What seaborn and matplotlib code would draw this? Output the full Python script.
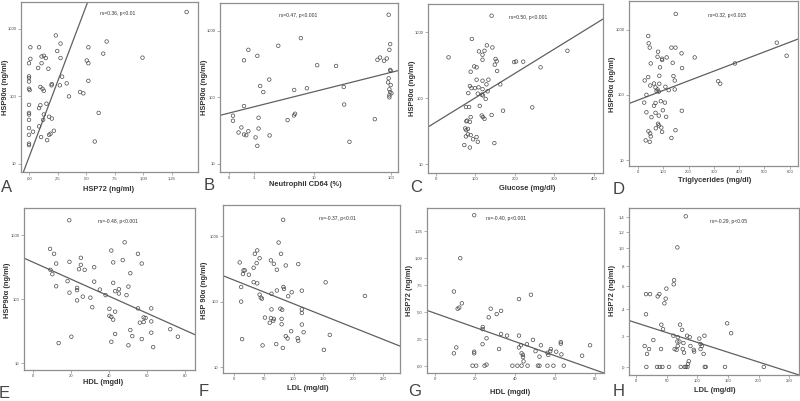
import numpy as np
import pandas as pd
import matplotlib
matplotlib.use("Agg")
import matplotlib.pyplot as plt
import matplotlib.font_manager as fm
import seaborn as sns

# ---------------- data ----------------
a_x = [1.38, 0.235, 0.276, 0.012, 0.088, 0.52, 0.68, 0.65, 0.247, 0.012, 0, 0.11, 0.13, 0.147, 0.276,
       0.506, 0.52, 0.994, 0.11, 0.08, 0.17, 0, 0, 0.29, 0.52, 0.197, 0.27, 0.33, 0, 0, 0.006, 0.1,
       0.118, 0.13, 0.2, 0.35, 0.447, 0.476, 0, 0.1, 0.153, 0.088, 0, 0, 0.13, 0.176, 0.2, 0.124, 0,
       0.61, 0.088, 0, 0.035, 0.218, 0, 0.176, 0.188, 0.106, 0.159, 0, 0, 0.576]
a_y = [1780, 800, 606, 534, 534, 534, 650, 430, 470, 360, 310, 390, 400, 370, 370,
       340, 310, 375, 310, 264, 257, 198, 187, 196, 170, 146, 146, 156, 166, 130, 124, 138,
       130, 121, 152, 100, 116, 111, 75, 74, 78, 67, 57, 54, 54, 50, 47, 45, 45,
       57, 36, 34, 30, 31, 27, 27, 28, 25, 22.5, 20, 19, 21.5]

b_x = [92.5, 6.67, 3.03, 0.72, 1.22, 0.52, 11.2, 19.9, 2.12, 1.41, 1.63, 5.34, 8.1, 25.0, 0.52, 25.3,
       0.11, 0.11, 1.30, 4.25, 5.3, 5.5, 62, 0.41, 1.30, 0.30, 0.72, 0.52, 0.62, 2.15, 1.11, 29.6, 1.22,
       66.9, 72, 81, 87.5, 94.4, 96.5, 96.5, 98, 92.5, 90.8, 98, 94.4, 96.5, 100, 94.4, 94.4]
b_y = [1740, 775, 595, 517, 420, 360, 304, 296, 185, 148, 120, 129, 137, 143, 74, 78,
       53, 44.5, 49.4, 45.6, 53.5, 56.7, 47, 35.3, 34, 29.7, 31, 27.7, 27, 26.8, 25, 21.5, 18.7,
       366, 396, 354, 383, 517, 630, 258, 250, 193, 168, 153, 132, 120, 115, 107, 100]

c_x = [141, 91, 129, 143, 109, 123, 333, 32, 118, 118, 151, 154, 198, 203, 221, 149, 97, 103, 265,
       88, 155, 103, 118, 133, 128, 163, 86, 90, 99, 108, 118, 131, 82, 106, 116, 119, 126, 76, 84,
       111, 170, 244, 88, 116, 119, 141, 123, 77, 79, 86, 74, 77, 81, 81, 88, 76, 103, 94, 106, 148,
       72, 86]
c_y = [1790, 795, 635, 590, 515, 526, 526, 418, 458, 385, 395, 365, 355, 362, 360, 324, 305, 295, 295,
       253, 260, 192, 185, 192, 163, 163, 154, 143, 143, 147, 138, 128, 120, 118, 114, 111, 98, 74, 74,
       77, 65, 73, 52, 55, 52, 56, 49, 45, 46, 44, 35, 33, 34.5, 28.5, 27.8, 26.5, 26, 24, 22, 21,
       19.6, 18]

d_x = [149, 40, 42, 46, 132, 148, 549, 588, 79, 172, 77, 95, 113, 224, 95, 50, 137, 383, 87, 174,
       140, 84, 145, 26, 40, 63, 84, 48, 69, 108, 77, 82, 73, 121, 145, 317, 325, 33, 24, 90, 69,
       106, 63, 98, 173, 33, 69, 82, 53, 111, 79, 82, 70, 92, 95, 148, 41, 48, 50, 132, 30, 46]
d_y = [1740, 800, 617, 530, 530, 530, 631, 398, 458, 433, 384, 358, 375, 375, 342, 303, 310, 303, 264, 257,
       194, 196, 166, 166, 187, 149, 148, 139, 130, 133, 121, 112, 115, 118, 121, 162, 148, 100, 76, 80, 75,
       76, 68, 58, 57, 54, 53, 48, 45.5, 46, 36, 34, 30.7, 31.5, 27, 28.7, 27.6, 25.6, 23, 21.8, 20, 19]

e_x = [18.9, 48, 8.8, 41, 10.9, 55, 25, 47, 12, 19, 42, 57, 25, 32, 24, 27, 9, 10, 51, 18, 32, 42,
       12, 50, 23, 23, 35, 45, 43, 45, 19, 38, 49, 26, 30, 23, 31, 40, 55, 62, 43, 40, 41, 42, 58,
       59, 58, 56, 62, 51, 72, 62, 43, 52, 76, 20, 57, 13.3, 41, 50, 63]
e_y = [1730, 780, 616, 580, 515, 515, 446, 410, 363, 386, 378, 363, 346, 318, 296, 289, 289, 247, 256,
       192, 189, 181, 160, 158, 151, 139, 142, 144, 134, 123, 127, 116, 116, 110, 106, 96, 75, 71, 72,
       72, 64, 55, 53, 48, 52, 51, 44, 43, 45, 33, 34, 30, 28.6, 26.5, 25.9, 25.9, 23.8, 20.6, 21.6,
       19, 17.8]

f_x = [82.6, 75, 79, 39, 35, 43, 9.6, 38, 62, 67, 108, 87, 33, 18, 16, 72, 15, 25, 33, 39, 154, 12,
       83, 72, 84, 97, 114, 43, 91, 63, 220, 45, 47, 12, 63, 78, 81, 114, 114, 52, 62, 67, 60, 66, 80,
       80, 114, 96, 117, 161, 87, 90, 107, 108, 13.5, 71, 48, 82, 151]
f_y = [1780, 800, 538, 606, 538, 460, 397, 388, 427, 378, 374, 357, 329, 300, 300, 307, 264, 258, 198,
       190, 197, 167, 167, 148, 156, 139, 147, 128, 121, 132, 122, 115, 111, 100, 76, 78, 75, 76, 67,
       57, 56, 54.5, 47.5, 51, 54.5, 45, 44.6, 35.3, 34, 31, 29.6, 27.3, 27.6, 25.2, 26.7, 22.4, 21.4,
       19.6, 18.3]

g_x = [19.5, 12.5, 9.3, 48, 13.3, 42, 12, 11.2, 27.8, 33, 30.8, 26.8, 23.8, 23.7, 33, 36, 42, 25.7,
       49, 23.7, 10.5, 32, 9.3, 19.5, 19.5, 42, 43, 46, 53, 63, 63, 77.7, 58, 57.7, 50.3, 56.3, 60.7,
       63.3, 73.7, 52.3, 43.3, 44, 44, 44.3, 56.7, 18.7, 20.5, 24.7, 25.7, 38.7, 41.2, 43.3, 46.3,
       51.5, 52.3, 56.3, 59.3, 64.5]
g_y = [1.40, 1.00, 0.69, 0.66, 0.58, 0.62, 0.54, 0.53, 0.53, 0.51, 0.48, 0.45, 0.36, 0.34, 0.295, 0.28,
       0.28, 0.255, 0.24, 0.20, 0.17, 0.155, 0.115, 0.13, 0.115, 0.17, 0.19, 0.20, 0.19, 0.22, 0.205,
       0.19, 0.155, 0.135, 0.135, 0.12, 0.13, 0.105, 0.093, 0.084, 0.115, 0.10, 0.08, 0.04, 0.10, 0, 0,
       0, 0.01, 0, 0, 0, 0, 0, 0, 0, 0, 0]

h_x = [80.8, 67.1, 61.7, 61.1, 49.1, 15.8, 22.4, 37.7, 34.9, 48, 45.9, 15.8, 40.9, 71.5, 148.5, 43.7,
       74.8, 155, 60.6, 67.7, 83, 87.3, 103, 111.4, 27.8, 67.1, 70.5, 77, 105, 13.6, 67.7, 88.4, 107,
       65.8, 62.6, 20.7, 40.4, 75.9, 93.9, 94.5, 105, 17.5, 78, 110, 85.7, 84.6,
       16.4, 33.8, 38.2, 42.6, 53.5, 72.6, 79.1, 80.8, 83.5, 111.9, 113.5, 145, 208.5]
h_y = [1.41, 1.01, 0.66, 0.62, 0.58, 0.53, 0.53, 0.53, 0.51, 0.49, 0.45, 0.36, 0.28, 0.28, 0.29, 0.247,
       0.242, 0.218, 0.20, 0.19, 0.20, 0.19, 0.18, 0.20, 0.17, 0.16, 0.16, 0.15, 0.143, 0.13, 0.13, 0.13,
       0.13, 0.105, 0.11, 0.11, 0.11, 0.11, 0.105, 0.094, 0.11, 0.079, 0.087, 0.079, 0.034, 0.018,
       0, 0, 0, 0, 0, 0, 0, 0, 0, 0, 0, 0, 0]

# regression lines (in transformed axis units): intercept, slope
fit_intercepts = [1.10, 1.765, 1.64, 1.92, 2.579, 2.329, 0.487, 0.1118]
fit_slopes = [4.47, 0.305, 0.003693, 0.001478, -0.01334, -0.003617, -0.00656, -0.000497]

rs_texts = ["rs=0.36, p<0.01", "rs=0.47, p<0.001", "rs=0.50, p<0.001", "rs=0.32, p<0.015",
            "rs=-0.48, p<0.001", "rs=-0.37, p<0.01", "rs=-0.40, p<0.001", "rs=-0.29, p<0.05"]
x_labels = ["HSP72 (ng/ml)", "Neutrophil CD64 (%)", "Glucose (mg/dl)", "Triglycerides (mg/dl)",
            "HDL (mgdl)", "LDL (mg/dl)", "HDL (mgdl)", "LDL (mg/dl)"]
y_labels = ["HSP90α (ng/ml)", "HSP90α (ng/ml)", "HSP90α (ng/ml)", "HSP90α (ng/ml)",
            "HSP90α (ng/ml)", "HSP 90α (ng/ml)", "HSP72 (ng/ml)", "HSP72 (ng/ml)"]
panel_letters = ["A", "B", "C", "D", "E", "F", "G", "H"]

a_xticks = [0, 0.25, 0.5, 0.75, 1.0, 1.25]
a_xticklabels = [",00", ",25", ",50", ",75", "1,00", "1,25"]
b_xticks = [0, 1, 10, 100]
b_xticklabels = ["0", "1", "10", "100"]
c_xticks = [0, 100, 200, 300, 400]
d_xticks = [0, 100, 200, 300, 400, 500, 600]
e_xticks = [0, 20, 40, 60, 80]
f_xticks = [0, 50, 100, 150, 200, 250]
hsp90_yticks = [10, 100, 1000]
g_yticks = [0, 0.25, 0.5, 0.75, 1.0, 1.25]
g_yticklabels = [",00", ",25", ",50", ",75", "1,00", "1,25"]
h_yticks = [0, 0.2, 0.4, 0.6, 0.8, 1.0, 1.2, 1.4]
h_yticklabels = [",0", ",2", ",4", ",6", ",8", "1,0", "1,2", "1,4"]

# ---------------- style ----------------
sns.set_style("white")
names = {f.name for f in fm.fontManager.ttflist}
narrow = "Liberation Sans Narrow" if "Liberation Sans Narrow" in names else "Liberation Sans"
plt.rcParams["font.family"] = ["Liberation Sans", "DejaVu Sans"]

W, H = 800, 401
fig = plt.figure(figsize=(8, 4.01), dpi=100)
fig.patch.set_facecolor("white")

def fwd1p(v):
    v = np.asarray(v, dtype=float)
    return np.log10(np.clip(v + 1, 1e-9, None))

def inv1p(v):
    return 10 ** np.asarray(v, dtype=float) - 1

ident = (lambda v: np.asarray(v, dtype=float), lambda v: np.asarray(v, dtype=float))
logt = (lambda v: np.log10(np.asarray(v, dtype=float)), lambda v: 10 ** np.asarray(v, dtype=float))
l1p = (fwd1p, inv1p)

panels = [
    dict(box=(21, 2, 198, 172), x=a_x, y=a_y, xs="lin", ys="log", xlim=(-0.07, 1.48), ylim=(7.6, 2500),
         xt=a_xticks, xtl=a_xticklabels, yt=hsp90_yticks, ytl=["10", "100", "1000"],
         txt=(118, 14), let=(1, 188), xl=(109, 189), yl=(6, 87)),
    dict(box=(220, 3, 398, 172), x=b_x, y=b_y, xs="l1p", ys="log", xlim=(-0.233, 120.9), ylim=(7.57, 2610),
         xt=b_xticks, xtl=b_xticklabels, yt=hsp90_yticks, ytl=["10", "100", "1000"],
         txt=(298, 15), let=(204, 185), xl=(305, 184), yl=(204, 87)),
    dict(box=(428, 4, 603, 173), x=c_x, y=c_y, xs="lin", ys="log", xlim=(-20, 423), ylim=(7.4, 2690),
         xt=c_xticks, xtl=[str(v) for v in c_xticks], yt=hsp90_yticks, ytl=["10", "100", "1000"],
         txt=(528, 17), let=(410, 188), xl=(527, 188), yl=(413, 88)),
    dict(box=(629, 1, 798, 166), x=d_x, y=d_y, xs="lin", ys="log", xlim=(-36, 633), ylim=(8.1, 2750),
         xt=d_xticks, xtl=[str(v) for v in d_xticks], yt=hsp90_yticks, ytl=["10", "100", "1000"],
         txt=(727, 15), let=(613, 190), xl=(715, 180), yl=(613, 84)),
    dict(box=(24, 208, 195, 370), x=e_x, y=e_y, xs="lin", ys="log", xlim=(-4.9, 85), ylim=(7.8, 2690),
         xt=e_xticks, xtl=[str(v) for v in e_xticks], yt=hsp90_yticks, ytl=["10", "100", "1000"],
         txt=(118, 221), let=(-1, 393), xl=(103, 383), yl=(8, 290)),
    dict(box=(223, 205, 400, 373), x=f_x, y=f_y, xs="lin", ys="log", xlim=(-18.5, 279), ylim=(8.1, 3000),
         xt=f_xticks, xtl=[str(v) for v in f_xticks], yt=hsp90_yticks, ytl=["10", "100", "1000"],
         txt=(337, 219), let=(199, 391), xl=(308, 389), yl=(205, 290)),
    dict(box=(427, 208, 604, 373), x=g_x, y=g_y, xs="lin", ys="lin", xlim=(-4.2, 84.7), ylim=(-0.068, 1.467),
         xt=e_xticks, xtl=[str(v) for v in e_xticks], yt=g_yticks, ytl=g_yticklabels,
         txt=(506, 219), let=(408, 392), xl=(510, 393), yl=(410, 290)),
    dict(box=(629, 208, 799, 375), x=h_x, y=h_y, xs="lin", ys="l1p", xlim=(-12, 266), ylim=(-0.046, 1.53),
         xt=f_xticks, xtl=[str(v) for v in f_xticks], yt=h_yticks, ytl=h_yticklabels,
         txt=(729, 221), let=(613, 392), xl=(715, 391), yl=(613, 290)),
]

tr = {"lin": ident, "log": logt, "l1p": l1p}
pt_color = "#4a4a4a"
line_color = "#606060"
frame_color = "#8f8f8f"

for i, p in enumerate(panels):
    x0, y0, x1, y1 = p["box"]
    ax = fig.add_axes([x0 / W, 1 - y1 / H, (x1 - x0) / W, (y1 - y0) / H])
    for setter, s in ((ax.set_xscale, p["xs"]), (ax.set_yscale, p["ys"])):
        if s == "log":
            setter("log")
        elif s == "l1p":
            setter("function", functions=l1p)
    df = pd.DataFrame({"x": p["x"], "y": p["y"]})
    sns.scatterplot(data=df, x="x", y="y", ax=ax, s=6.5, facecolor="none", edgecolor=pt_color,
                    linewidth=0.5, zorder=3)
    # regression line in transformed coordinates
    xg = np.linspace(p["xlim"][0], p["xlim"][1], 400)
    yu = fit_intercepts[i] + fit_slopes[i] * tr[p["xs"]][0](xg)
    yg = tr[p["ys"]][1](yu)
    sns.lineplot(x=xg, y=yg, ax=ax, color=line_color, linewidth=0.9, sort=False, estimator=None, zorder=2)
    ax.set_xlim(*p["xlim"])
    ax.set_ylim(*p["ylim"])
    ax.set_xticks(p["xt"])
    ax.set_xticklabels(p["xtl"])
    ax.set_yticks(p["yt"])
    ax.set_yticklabels(p["ytl"])
    ax.minorticks_off()
    ax.tick_params(axis="both", which="major", length=2, width=0.5, color=frame_color,
                   labelsize=3.0, labelcolor="#444444", pad=1.2, direction="out")
    ax.tick_params(left=True, bottom=True, top=False, right=False)
    for sp in ax.spines.values():
        sp.set_visible(True)
        sp.set_color(frame_color)
        sp.set_linewidth(0.9)
    ax.set_xlabel(x_labels[i], fontsize=5.4, fontweight="bold", family=[narrow, "DejaVu Sans"],
                  color="#333333", va="center", ha="center")
    ax.xaxis.set_label_coords(p["xl"][0] / W, 1 - p["xl"][1] / H, transform=fig.transFigure)
    ax.set_ylabel(y_labels[i], fontsize=5.4, fontweight="bold", family=[narrow, "DejaVu Sans"],
                  color="#333333", va="center", ha="center")
    ax.yaxis.set_label_coords(p["yl"][0] / W, 1 - p["yl"][1] / H, transform=fig.transFigure)
    fig.text(p["txt"][0] / W, 1 - p["txt"][1] / H, rs_texts[i], fontsize=3.6, color="#333333",
             ha="center", va="center")
    fig.text(p["let"][0] / W, 1 - p["let"][1] / H, panel_letters[i], fontsize=12, color="#444444",
             ha="left", va="center", fontweight="light")

fig.savefig("out.png", dpi=100, facecolor="white")
